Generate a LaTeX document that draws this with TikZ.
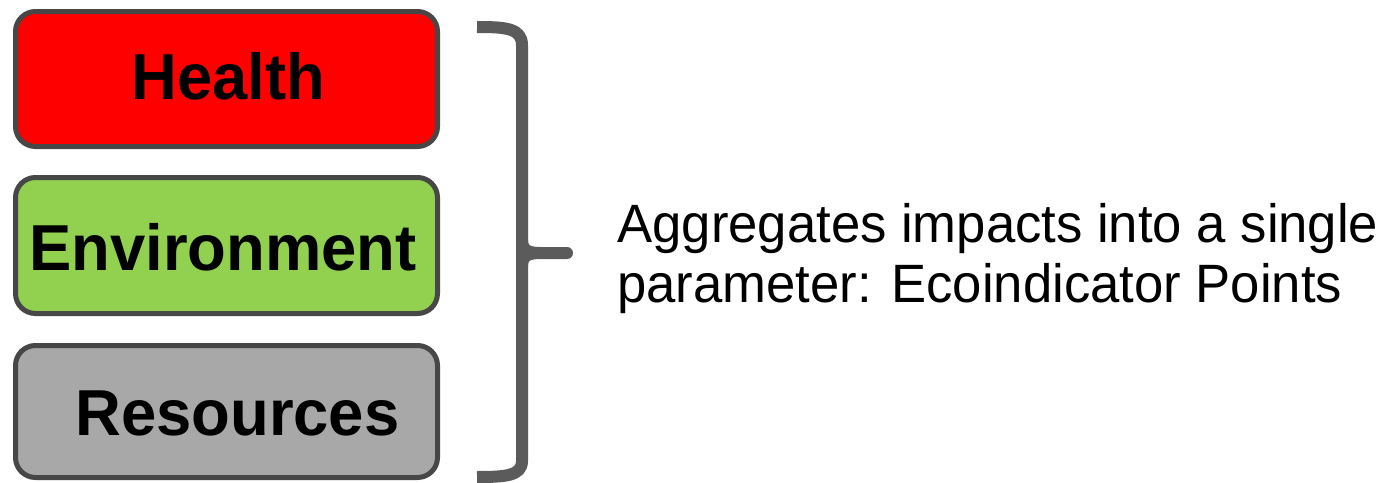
\documentclass[tikz,border=0pt]{standalone}
\usepackage{fontspec}
\setmainfont{Liberation Sans}[FakeStretch=0.975]
\definecolor{boxline}{HTML}{474747}
\definecolor{bracecol}{HTML}{5B5B5B}
\definecolor{healthred}{HTML}{FF0000}
\definecolor{envgreen}{HTML}{92D050}
\definecolor{resgray}{HTML}{A8A8A8}
\tikzset{
  box/.style={draw=boxline, line width=2.5pt, rounded corners=10pt, minimum width=211pt, inner sep=0pt},
  lab/.style={inner sep=0pt, anchor=base west, font=\fontsize{32.5}{36}\selectfont\bfseries},
  desc/.style={inner sep=0pt, anchor=base west, font=\fontsize{27}{30}\selectfont},
  brace/.style={draw=bracecol, line width=6pt, line cap=butt, line join=round}
}
\begin{document}
\begin{tikzpicture}[x=0.5pt, y=-0.5pt]
\useasboundingbox (0,0) rectangle (1392,482);
\node[box, fill=healthred, minimum height=67.5pt] (health) at (226.5,79) {};
\node[box, fill=envgreen, minimum height=68pt] (env) at (226.5,245.5) {};
\node[box, fill=resgray, minimum height=66pt] (res) at (226.5,411.5) {};
\node[lab] (healthlab) at (131,99) {Health};
\node[lab] (envlab) at (29,270) {Environment};
\node[lab] (reslab) at (75,435) {Resources};
\coordinate (btop) at (477,27);
\coordinate (bbot) at (477,477);
\coordinate (btip) at (567,253);
\draw[brace] (btop) .. controls (505,27) and (522,28) .. (522,45) -- (522,461) .. controls (522,476) and (505,477) .. (bbot);
\draw[brace, line cap=round] (522,240) .. controls (522,250) and (528,253) .. (540,253) -- (btip);
\draw[brace] (522,266) .. controls (522,256) and (528,253) .. (540,253);
\node[desc] (line1) at (617,242) {Aggregates impacts into a single};
\node[desc] (line2) at (617,302) {parameter: Ecoindicator Points};
\end{tikzpicture}
\end{document}
